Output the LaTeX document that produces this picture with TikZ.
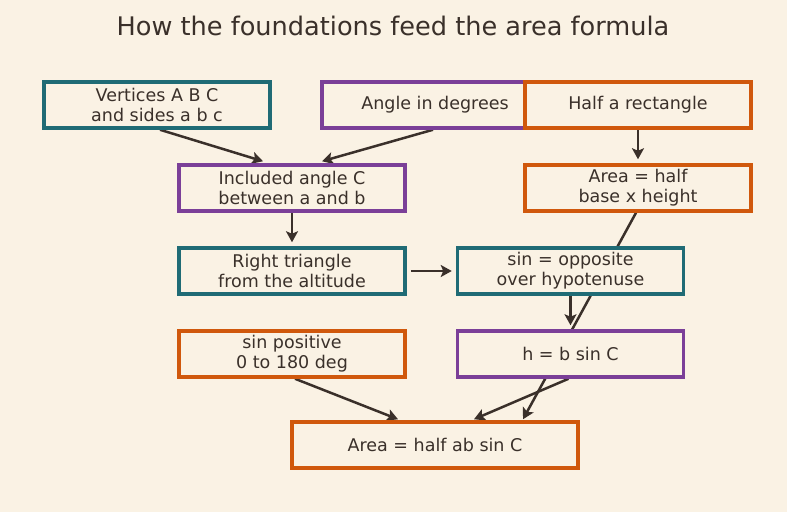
\documentclass[tikz,border=0pt]{standalone}
\usepackage{fontspec}
\setmainfont{DejaVu Sans}
\usetikzlibrary{arrows.meta,backgrounds}
\definecolor{bg}{RGB}{250,242,228}
\definecolor{ink}{RGB}{58,48,42}
\definecolor{teal}{RGB}{31,107,117}
\definecolor{purp}{RGB}{123,63,152}
\definecolor{orng}{RGB}{208,88,12}
\begin{document}
\begin{tikzpicture}[x=1pt,y=-1pt,
  box/.style={draw, line width=3.5pt, fill=bg, text=ink, minimum width=226pt,
    minimum height=46pt, inner sep=0pt, align=center,
    font=\fontsize{17.5}{20}\selectfont},
  tealbox/.style={box, draw=teal},
  purpbox/.style={box, draw=purp},
  orngbox/.style={box, draw=orng},
  link/.style={draw=ink, line width=2.5pt,
    -{Stealth[length=11pt,width=12pt,inset=2.5pt]}}]
\useasboundingbox (0,0) rectangle (787,512);
\node[text=ink, font=\fontsize{25.6}{30}\selectfont] (title) at (393,26) {How the foundations feed the area formula};
\node[tealbox] (V) at (157,105) {Vertices A B C\\and sides a b c};
\node[purpbox] (A) at (435,105) {Angle in degrees};
\node[orngbox] (H) at (638,105) {Half a rectangle};
\node[purpbox] (I) at (292,188) {Included angle C\\between a and b};
\node[orngbox] (AH) at (638,188) {Area = half\\base x height};
\node[tealbox] (R) at (292,271) {Right triangle\\from the altitude};
\node[tealbox] (S) at (570.5,271) {sin = opposite\\over hypotenuse};
\node[orngbox] (P) at (292,354) {sin positive\\0 to 180 deg};
\node[purpbox] (HB) at (570.5,354) {h = b sin C};
\node[orngbox, minimum width=286pt] (F) at (435,445) {Area = half ab sin C};
\begin{scope}[on background layer]
\fill[bg] (0,0) rectangle (787,512);
\path[link] ([xshift=3pt]V.south) -- ([xshift=-29pt,yshift=2pt]I.north);
\path[link] ([xshift=-2pt]A.south) -- ([xshift=30pt,yshift=2pt]I.north);
\path[link] (H.south) -- ([yshift=4pt]AH.north);
\path[link] (I.south) -- ([yshift=4pt]R.north);
\path[link] ([xshift=4pt]R.east) -- ([xshift=-4pt]S.west);
\path[link] ([xshift=-2pt]AH.south) -- ([xshift=88pt,yshift=1pt]F.north);
\path[link] (S.south) -- ([yshift=4pt]HB.north);
\path[link] ([xshift=-2pt]HB.south) -- ([xshift=39pt,yshift=1pt]F.north);
\path[link] ([xshift=3pt]P.south) -- ([xshift=-37pt,yshift=1pt]F.north);
\end{scope}
\end{tikzpicture}
\end{document}
